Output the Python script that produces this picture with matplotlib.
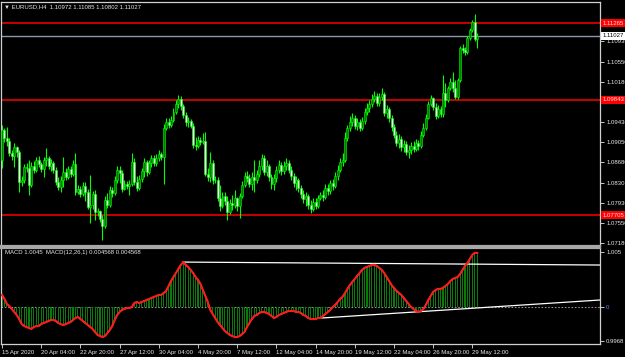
import numpy as np
import matplotlib.pyplot as plt

# Datos EURUSD H4 (15 Apr 2020 - 29 May 2020)
open_first = 1.0873
closes = [1.0928, 1.0913, 1.0908, 1.0886, 1.0880, 1.0897, 1.0887, 1.0832, 1.0835, 1.0860,
          1.0858, 1.0826, 1.0861, 1.0854, 1.0873, 1.0865, 1.0856, 1.0873, 1.0876, 1.0861,
          1.0867, 1.0854, 1.0832, 1.0823, 1.0835, 1.0850, 1.0841, 1.0856, 1.0847, 1.0865,
          1.0813, 1.0819, 1.0810, 1.0824, 1.0813, 1.0785, 1.0789, 1.0810, 1.0776, 1.0778,
          1.0763, 1.0750, 1.0798, 1.0789, 1.0817, 1.0811, 1.0835, 1.0854, 1.0848, 1.0819,
          1.0828, 1.0824, 1.0828, 1.0869, 1.0832, 1.0821, 1.0837, 1.0852, 1.0869, 1.0850,
          1.0867, 1.0876, 1.0867, 1.0876, 1.0884, 1.0878, 1.0932, 1.0943, 1.0937, 1.0947,
          1.0962, 1.0976, 1.0986, 1.0973, 1.0956, 1.0943, 1.0945, 1.0936, 1.0900, 1.0899,
          1.0910, 1.0906, 1.0908, 1.0847, 1.0841, 1.0867, 1.0835, 1.0835, 1.0802, 1.0787,
          1.0806, 1.0797, 1.0776, 1.0793, 1.0789, 1.0802, 1.0787, 1.0806, 1.0826, 1.0843,
          1.0839, 1.0828, 1.0841, 1.0835, 1.0847, 1.0861, 1.0876, 1.0850, 1.0861, 1.0841,
          1.0828, 1.0839, 1.0854, 1.0863, 1.0852, 1.0861, 1.0867, 1.0854, 1.0843, 1.0830,
          1.0835, 1.0821, 1.0810, 1.0800, 1.0806, 1.0789, 1.0782, 1.0795, 1.0787, 1.0802,
          1.0808, 1.0804, 1.0821, 1.0815, 1.0830, 1.0824, 1.0843, 1.0854, 1.0869, 1.0873,
          1.0913, 1.0932, 1.0943, 1.0950, 1.0936, 1.0943, 1.0932, 1.0945, 1.0962, 1.0969,
          1.0976, 1.0986, 1.0991, 1.0978, 1.0989, 1.0995, 1.0960, 1.0967, 1.0950, 1.0934,
          1.0919, 1.0904, 1.0912, 1.0897, 1.0902, 1.0887, 1.0891, 1.0899, 1.0893, 1.0904,
          1.0899, 1.0919, 1.0932, 1.0950, 1.0976, 1.0987, 1.0971, 1.0954, 1.0967, 1.0958,
          1.0997, 1.0984, 1.1006, 1.1017, 1.1006, 1.0989, 1.1021, 1.1080, 1.1076, 1.1073,
          1.1099, 1.1114, 1.1128, 1.10972, 1.11027]
highs = [1.0937, 1.0932, 1.0934, 1.0913, 1.0891, 1.0904, 1.0899, 1.0891, 1.0843, 1.0865,
         1.0867, 1.0873, 1.0869, 1.0871, 1.0878, 1.0880, 1.0869, 1.0878, 1.0895, 1.0880,
         1.0874, 1.0871, 1.0860, 1.0841, 1.0843, 1.0878, 1.0858, 1.0861, 1.0861, 1.0873,
         1.0886, 1.0826, 1.0824, 1.0832, 1.0832, 1.0819, 1.0845, 1.0815, 1.0817, 1.0784,
         1.0780, 1.0771, 1.0806, 1.0811, 1.0824, 1.0823, 1.0843, 1.0861, 1.0861, 1.0854,
         1.0835, 1.0834, 1.0835, 1.0886, 1.0876, 1.0843, 1.0845, 1.0858, 1.0876, 1.0873,
         1.0873, 1.0882, 1.0882, 1.0884, 1.0891, 1.0887, 1.0939, 1.0950, 1.0950, 1.0954,
         1.0969, 1.0984, 1.0993, 1.0991, 1.0976, 1.0962, 1.0952, 1.0949, 1.0941, 1.0915,
         1.0917, 1.0915, 1.0923, 1.0924, 1.0858, 1.0887, 1.0873, 1.0843, 1.0841, 1.0826,
         1.0813, 1.0813, 1.0806, 1.0800, 1.0808, 1.0817, 1.0804, 1.0811, 1.0834, 1.0850,
         1.0852, 1.0847, 1.0850, 1.0873, 1.0854, 1.0873, 1.0884, 1.0882, 1.0873, 1.0865,
         1.0847, 1.0847, 1.0861, 1.0873, 1.0869, 1.0871, 1.0876, 1.0873, 1.0861, 1.0848,
         1.0843, 1.0839, 1.0826, 1.0817, 1.0813, 1.0810, 1.0798, 1.0802, 1.0802, 1.0808,
         1.0813, 1.0817, 1.0828, 1.0828, 1.0835, 1.0837, 1.0850, 1.0863, 1.0876, 1.0886,
         1.0924, 1.0937, 1.0954, 1.0960, 1.0956, 1.0950, 1.0949, 1.0952, 1.0969, 1.0978,
         1.0984, 1.0995, 1.1000, 1.0997, 1.0997, 1.1006, 1.0999, 1.0975, 1.0971, 1.0956,
         1.0939, 1.0926, 1.0921, 1.0917, 1.0910, 1.0908, 1.0900, 1.0906, 1.0908, 1.0912,
         1.0910, 1.0926, 1.0941, 1.0958, 1.0982, 1.0993, 1.0989, 1.0978, 1.0975, 1.0973,
         1.1030, 1.1015, 1.1010, 1.1025, 1.1036, 1.1021, 1.1025, 1.1084, 1.1088, 1.1082,
         1.1103, 1.1117, 1.1132, 1.1143, 1.11085]
lows = [1.0858, 1.0906, 1.0899, 1.0880, 1.0873, 1.0860, 1.0878, 1.0813, 1.0824, 1.0830,
        1.0850, 1.0808, 1.0823, 1.0848, 1.0850, 1.0860, 1.0850, 1.0841, 1.0861, 1.0856,
        1.0852, 1.0848, 1.0826, 1.0817, 1.0813, 1.0823, 1.0835, 1.0837, 1.0841, 1.0843,
        1.0808, 1.0810, 1.0804, 1.0806, 1.0797, 1.0782, 1.0756, 1.0782, 1.0761, 1.0769,
        1.0758, 1.0724, 1.0746, 1.0784, 1.0786, 1.0804, 1.0808, 1.0830, 1.0830, 1.0813,
        1.0817, 1.0819, 1.0808, 1.0824, 1.0826, 1.0815, 1.0817, 1.0832, 1.0841, 1.0843,
        1.0847, 1.0860, 1.0861, 1.0861, 1.0871, 1.0873, 1.0828, 1.0928, 1.0932, 1.0934,
        1.0943, 1.0958, 1.0969, 1.0965, 1.0950, 1.0936, 1.0934, 1.0932, 1.0895, 1.0891,
        1.0895, 1.0900, 1.0902, 1.0843, 1.0834, 1.0832, 1.0828, 1.0830, 1.0797, 1.0778,
        1.0784, 1.0789, 1.0761, 1.0772, 1.0780, 1.0784, 1.0778, 1.0765, 1.0802, 1.0823,
        1.0832, 1.0823, 1.0817, 1.0813, 1.0830, 1.0841, 1.0854, 1.0845, 1.0843, 1.0834,
        1.0819, 1.0817, 1.0832, 1.0848, 1.0845, 1.0847, 1.0854, 1.0848, 1.0835, 1.0823,
        1.0817, 1.0813, 1.0802, 1.0793, 1.0787, 1.0782, 1.0774, 1.0778, 1.0782, 1.0784,
        1.0798, 1.0797, 1.0800, 1.0808, 1.0810, 1.0817, 1.0821, 1.0835, 1.0850, 1.0861,
        1.0869, 1.0908, 1.0926, 1.0936, 1.0930, 1.0928, 1.0926, 1.0928, 1.0939, 1.0956,
        1.0962, 1.0971, 1.0980, 1.0973, 1.0973, 1.0984, 1.0954, 1.0950, 1.0943, 1.0926,
        1.0913, 1.0899, 1.0895, 1.0889, 1.0887, 1.0882, 1.0876, 1.0884, 1.0887, 1.0889,
        1.0891, 1.0895, 1.0915, 1.0928, 1.0949, 1.0973, 1.0965, 1.0949, 1.0950, 1.0952,
        1.0952, 1.0971, 1.0980, 1.1002, 1.0999, 1.0986, 1.0986, 1.1017, 1.1071, 1.1067,
        1.1069, 1.1095, 1.1110, 1.1093, 1.10802]

# MACD(12,26,1) en pips (1e-4)
macd_pips = [10.2, 6.8, 2.5, 0.8, -1.7, -4.2, -6.8, -10.2, -14.4, -16.1,
             -16.9, -17.8, -18.6, -16.9, -16.1, -16.1, -14.4, -13.6, -12.7, -11.9,
             -11.0, -11.0, -11.9, -13.6, -14.4, -15.3, -14.4, -13.6, -12.7, -11.0,
             -9.3, -8.5, -10.2, -11.9, -13.6, -15.3, -16.9, -18.6, -21.2, -23.7,
             -24.6, -25.4, -24.6, -22.0, -19.5, -16.1, -11.0, -6.8, -4.2, -2.5,
             -1.7, -0.8, -0.8, 0.0, 3.4, 4.2, 3.4, 4.2, 5.1, 5.9,
             6.8, 7.6, 8.5, 9.3, 10.2, 10.2, 11.9, 13.6, 17.8, 22.0,
             25.4, 28.8, 32.2, 35.6, 38.1, 35.6, 33.9, 31.4, 28.8, 25.4,
             22.9, 19.5, 14.4, 9.3, 4.2, -2.5, -5.9, -9.3, -12.7, -15.3,
             -17.8, -20.3, -22.0, -23.7, -24.6, -25.4, -25.4, -24.6, -22.9, -21.2,
             -16.9, -13.6, -10.2, -7.6, -6.8, -5.1, -4.2, -4.2, -5.1, -5.9,
             -7.6, -9.3, -8.5, -6.8, -5.9, -5.1, -4.2, -3.4, -3.4, -3.4,
             -4.2, -4.2, -5.1, -6.8, -7.6, -9.3, -10.2, -10.2, -10.2, -9.3,
             -9.3, -7.6, -5.9, -4.2, -2.5, 0.0, 1.7, 4.2, 6.8, 8.5,
             11.9, 15.3, 18.6, 21.2, 23.7, 26.3, 28.8, 31.4, 33.1, 33.9,
             34.7, 35.6, 35.6, 34.7, 33.1, 31.4, 28.8, 25.4, 22.0, 18.6,
             16.1, 13.6, 11.9, 10.2, 7.6, 5.1, 2.5, 0.0, -1.7, -3.4,
             -4.2, -3.4, -1.7, 1.7, 5.9, 9.3, 12.7, 14.4, 15.3, 15.3,
             16.1, 17.8, 19.5, 22.0, 23.7, 24.6, 25.4, 28.0, 31.4, 34.7,
             37.3, 40.7, 44.1, 45.8, 45.68]

red_levels = [1.11265, 1.09843, 1.07705]
bid = 1.11027
price_ticks = [1.10930, 1.10550, 1.10180, 1.09810, 1.09430, 1.09050,
               1.08680, 1.08300, 1.07930, 1.07550, 1.07180]
date_labels = ['15 Apr 2020', '20 Apr 04:00', '22 Apr 20:00', '27 Apr 12:00',
               '30 Apr 04:00', '4 May 20:00', '7 May 12:00', '12 May 04:00',
               '14 May 20:00', '19 May 12:00', '22 May 04:00', '26 May 20:00',
               '29 May 12:00']
# lineas de tendencia sobre el MACD (barra, valor)
trend1_x, trend1_v = [74, 244], [0.0038, 0.00355]
trend2_x, trend2_v = [130.6, 244], [-0.00093, 0.00059]
macd_ticks = [0.00465, 0.0, -0.00288]
macd_tick_labels = ['1.005', '0', '0.9968']

plt.rcParams['font.family'] = ['Liberation Sans', 'DejaVu Sans']
txt = '#e6e6e6'
fs = 4.3

closes = np.array(closes)
highs = np.array(highs)
lows = np.array(lows)
opens = np.concatenate([[open_first], closes[:-1]])
macd = np.array(macd_pips) * 1e-4
x = np.arange(len(closes))

fig = plt.figure(figsize=(6.25, 3.57), dpi=100, facecolor='black')
ax = fig.add_axes([1/625, 1 - 246/357, 599/625, 244/357], facecolor='black')
ax2 = fig.add_axes([1/625, 1 - 344/357, 599/625, 96/357], facecolor='black')

# VELAS
ax.vlines(x, lows, highs, color='#00ff00', lw=0.8, zorder=3)
bull = closes >= opens
body_lo = np.minimum(opens, closes)
body_h = np.maximum(np.abs(closes - opens), 0.00004)
ax.bar(x[bull], body_h[bull], bottom=body_lo[bull], width=0.8,
       color='#007a00', edgecolor='#00ff00', lw=0.4, zorder=4)
ax.bar(x[~bull], body_h[~bull], bottom=body_lo[~bull], width=0.8,
       color='#e8ffe8', edgecolor='#00ff00', lw=0.4, zorder=4)

# NIVELES
for lv in red_levels:
    ax.axhline(lv, color='#ff0000', lw=1.1, zorder=2)
    ax.text(1.004, lv, f'{lv:.5f}', transform=ax.get_yaxis_transform(),
            ha='left', va='center', fontsize=fs, color='#ffe0e0', zorder=6,
            bbox=dict(boxstyle='square,pad=0.25', fc='#ff0000', ec='none'), clip_on=False)
ax.axhline(bid, color='#8899aa', lw=1, zorder=2)
ax.text(1.004, bid, f'{bid:.5f}', transform=ax.get_yaxis_transform(),
        ha='left', va='center', fontsize=fs, color='black', zorder=6,
        bbox=dict(boxstyle='square,pad=0.25', fc='white', ec='none'), clip_on=False)

ax.set_xlim(-0.41, 244.1)
ax.set_ylim(1.07131, 1.11655)
ax.set_yticks(price_ticks)
ax.set_yticklabels([f'{p:.5f}' for p in price_ticks])
ax.yaxis.tick_right()
ax.tick_params(axis='y', colors=txt, labelsize=fs, length=3, width=0.6, pad=1.5)
ax.set_xticks([])
for s in ax.spines.values():
    s.set_color('#d0d0d0')
    s.set_linewidth(0.9)
ax.spines['bottom'].set_color('#a8a8a8')
ax.spines['bottom'].set_linewidth(1.6)

fig.text(4/625, 1 - 7/357, '\u25bc EURUSD,H4  1.10972 1.11085 1.10802 1.11027',
         fontsize=fs, color=txt, va='center', ha='left')

# MACD
ax2.bar(x, macd, width=0.45, color='#0a7a0a', zorder=2)
ax2.axhline(0, color='#909090', lw=0.8, ls=(0, (1.5, 1.5)), zorder=1)
ax2.plot(x, macd, color='white', lw=0.8, zorder=3)
ax2.plot(x, macd, color='#ff1a1a', lw=1.5, zorder=4)
ax2.plot(trend1_x, trend1_v, color='white', lw=0.9, zorder=3)
ax2.plot(trend2_x, trend2_v, color='white', lw=0.9, zorder=3)
ax2.text(0.006, 0.95, 'MACD 1.0045  MACD(12,26,1) 0.004568 0.004568',
         transform=ax2.transAxes, fontsize=fs, color=txt, va='center', ha='left')

ax2.set_xlim(-0.41, 244.1)
ax2.set_ylim(-0.00313, 0.00499)
ax2.set_yticks(macd_ticks)
ax2.set_yticklabels(macd_tick_labels)
ax2.yaxis.tick_right()
ax2.tick_params(axis='y', colors=txt, labelsize=fs, length=3, width=0.6, pad=1.5)
ax2.get_yticklabels()[1].set_color('#5b8ee0')
ax2.set_xticks(np.arange(len(date_labels)) * 16)
ax2.set_xticklabels(date_labels)
ax2.tick_params(axis='x', colors=txt, labelsize=fs, length=3, width=0.6, pad=1)
plt.setp(ax2.get_xticklabels(), ha='left')
for s in ax2.spines.values():
    s.set_color('#d0d0d0')
    s.set_linewidth(0.9)
ax2.spines['top'].set_color('#a8a8a8')
ax2.spines['top'].set_linewidth(1.6)

fig.savefig('out.png', dpi=100, facecolor='black')
